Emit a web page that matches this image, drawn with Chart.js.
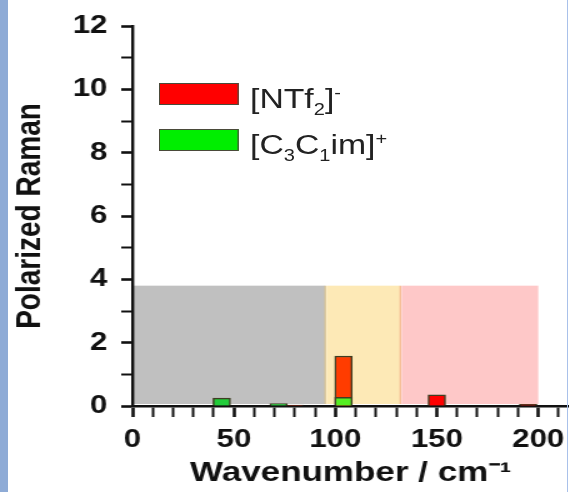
<!DOCTYPE html>
<html>
<head>
<meta charset="utf-8">
<script src="https://cdn.jsdelivr.net/npm/chart.js@4/dist/chart.umd.min.js"></script>
<style>
  html, body { margin: 0; padding: 0; background: #fff; }
  body { width: 569px; height: 492px; position: relative; overflow: hidden; font-family: "Liberation Sans", Arial, sans-serif; }
  #strip { position: absolute; left: 0; top: 0; width: 8px; height: 492px; background: #8eabd6; z-index: 3; }
  #edge { position: absolute; left: 567px; top: 0; width: 1px; height: 492px; background: #a9c1ea; z-index: 3; }
  /* the reference is stretched sideways, so the whole chart is drawn narrow and widened */
  #wrap { position: absolute; left: 0; top: 0; width: 455px; height: 492px; transform: scaleX(1.25); transform-origin: 0 0; }
  #wrap canvas { position: absolute; left: 0; top: 0; background: #fff; }
  .legend { position: absolute; left: 127px; top: 0; font-size: 27px; color: #222; z-index: 2; }
  .legend .row { position: absolute; left: 0; width: 300px; height: 23px; }
  .legend .box { position: absolute; left: 0; top: 0; width: 62px; height: 20px; border: 1.5px solid #4a4a3a; }
  .legend .txt { position: absolute; left: 73px; top: -5px; white-space: nowrap; line-height: 30px; }
  .legend sub, .legend sup { font-size: 16px; }
  .legend sub { vertical-align: -7px; }
  .legend sup { vertical-align: 10px; }
</style>
</head>
<body>
<div id="strip"></div>
<div id="edge"></div>
<div id="wrap">
  <canvas id="raman_chart" width="455" height="492"></canvas>
  <div class="legend">
    <div class="row" style="top:83px"><div class="box" style="background:#ff0000"></div><div class="txt">[NTf<sub>2</sub>]<sup>-</sup></div></div>
    <div class="row" style="top:129px"><div class="box" style="background:#00ee00"></div><div class="txt">[C<sub>3</sub>C<sub>1</sub>im]<sup>+</sup></div></div>
  </div>
</div>
<script>
const ntf2Wavenumbers = [80, 104, 150, 195];
const ntf2Values = [0.03, 1.58, 0.35, 0.05];
const imWavenumbers = [44, 72, 104];
const imValues = [0.25, 0.08, 0.27];

const regionStarts = [0, 95, 132];
const regionEnds = [95, 132, 200];
const regionTop = 3.8;

const xTickLabels = [0, 50, 100, 150, 200];
const yTickLabels = [0, 2, 4, 6, 8, 10, 12];

const regionColours = ["#c0c0c0", "#fde9b6", "#fec8c8"];
const regionEdges = ["#d8c08a", "#f5b68c", null];

// Shaded wavenumber bands behind the bars
const bandsPlugin = {
  id: "bands",
  beforeDraw(chart) {
    const { ctx, scales: { x, y } } = chart;
    const top = y.getPixelForValue(regionTop);
    const bottom = y.getPixelForValue(0) - 2;
    ctx.save();
    regionStarts.forEach((start, i) => {
      const left = x.getPixelForValue(start);
      const right = x.getPixelForValue(regionEnds[i]);
      ctx.fillStyle = regionColours[i];
      ctx.fillRect(left + 1, top, right - left - 1, bottom - top);
      if (regionEdges[i]) {
        ctx.strokeStyle = regionEdges[i];
        ctx.lineWidth = 1.2;
        ctx.beginPath();
        ctx.moveTo(right, top);
        ctx.lineTo(right, bottom);
        ctx.stroke();
      }
    });
    ctx.restore();
  }
};

Chart.defaults.font.family = "'Liberation Sans', Arial, sans-serif";
Chart.defaults.color = "#111";

const context = document.getElementById("raman_chart").getContext("2d");

new Chart(context, {
  type: "bar",
  data: {
    datasets: [{
      label: "[C3C1im]+",
      data: imWavenumbers.map((x, i) => ({ x, y: imValues[i] })),
      backgroundColor: ["#22cc3a", "#22cc3a", "#55ee22"],
      borderColor: "#3e3e22",
      borderWidth: 1.5,
      order: 1
    }, {
      label: "[NTf2]-",
      data: ntf2Wavenumbers.map((x, i) => ({ x, y: ntf2Values[i] })),
      backgroundColor: ["#b02010", "#ff3c00", "#ff0000", "#cc1010"],
      borderColor: "#3e3e22",
      borderWidth: 1.5,
      order: 2
    }]
  },
  options: {
    responsive: false,
    animation: false,
    devicePixelRatio: 1,
    layout: { padding: { top: 22, right: 0, bottom: 0, left: 0 } },
    datasets: { bar: { grouped: false, barThickness: 14 } },
    plugins: { legend: { display: false }, tooltip: { enabled: false } },
    scales: {
      x: {
        type: "linear",
        offset: false,
        min: 0,
        max: 215,
        afterFit: (scale) => { scale.height = 86; },
        border: { display: true, color: "#111", width: 2.6 },
        grid: {
          offset: false,
          drawOnChartArea: false,
          tickLength: 11,
          tickColor: (ctx) => (ctx.tick && ctx.tick.value % 10 === 0 ? "#111" : "rgba(0,0,0,0)"),
          tickWidth: (ctx) => (ctx.tick && xTickLabels.includes(ctx.tick.value) ? 2.6 : 2)
        },
        ticks: {
          stepSize: 10,
          includeBounds: false,
          autoSkip: false,
          maxRotation: 0,
          padding: 8,
          font: { size: 25, weight: "bold" },
          callback: (value) => (xTickLabels.includes(value) ? value : "")
        },
        title: {
          display: true,
          text: "Wavenumber / cm⁻¹",
          font: { size: 28, weight: "bold" },
          padding: { top: 0, bottom: 2 }
        }
      },
      y: {
        min: 0,
        max: 12,
        afterFit: (scale) => { scale.width = 106; },
        border: { display: true, color: "#111", width: 2.4 },
        grid: {
          drawOnChartArea: false,
          tickLength: 9,
          tickColor: "#111",
          tickWidth: (ctx) => (ctx.tick && yTickLabels.includes(ctx.tick.value) ? 2.6 : 2)
        },
        ticks: {
          stepSize: 1,
          autoSkip: false,
          padding: 11,
          font: { size: 25, weight: "bold" },
          callback: (value) => (yTickLabels.includes(value) ? value : "")
        },
        title: {
          display: true,
          text: "Polarized Raman",
          font: { size: 28, weight: "bold" },
          padding: { top: 7, bottom: 0 }
        }
      }
    }
  },
  plugins: [bandsPlugin]
});
</script>
</body>
</html>
